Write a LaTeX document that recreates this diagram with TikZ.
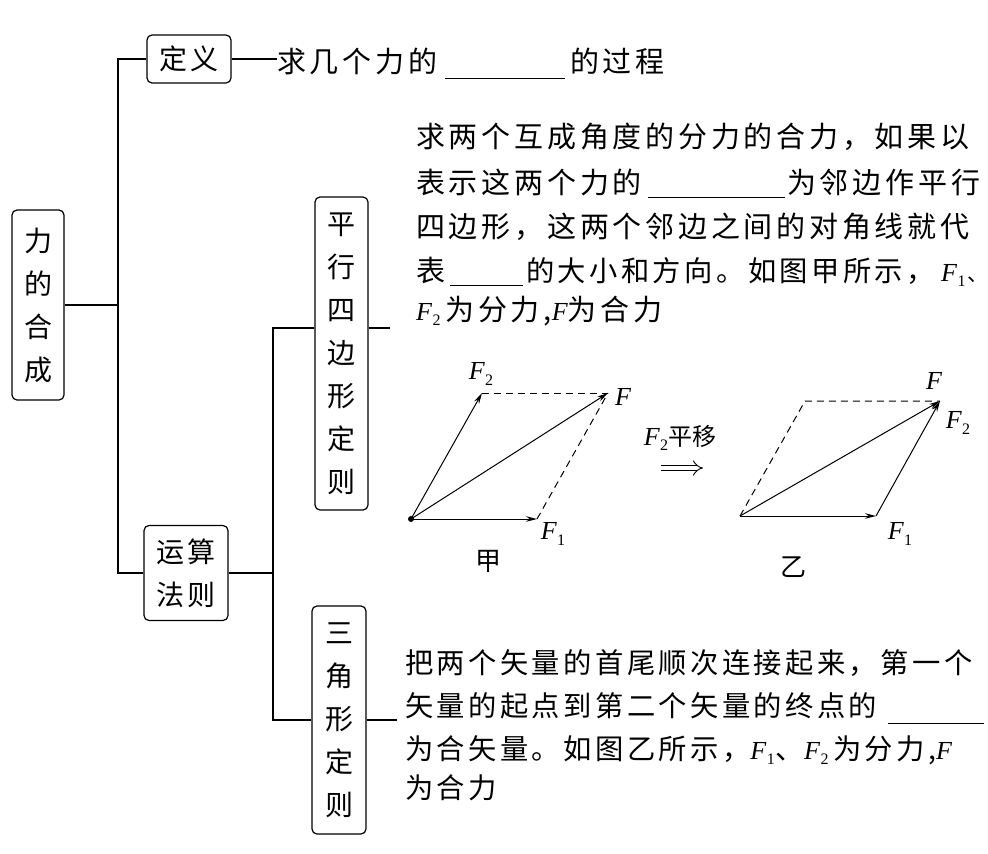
\documentclass[tikz,border=0pt]{standalone}
\usepackage{fontspec}
\newfontfamily\cjk[LetterSpace=13]{Noto Sans CJK SC}
\newfontfamily\cjkb[LetterSpace=12]{Noto Sans CJK SC}
\newfontfamily\cjkbox{Noto Sans CJK SC}
\newfontfamily\tms{Liberation Serif}
\usetikzlibrary{arrows.meta}
\newcommand\myF[1]{{\tms\fontsize{26}{26}\selectfont\itshape F\kern0.5pt\raisebox{-0.22em}{\fontsize{16}{16}\selectfont\upshape #1}}}
\newcommand\myFF{{\tms\fontsize{26}{26}\selectfont\itshape F}}
\begin{document}
\begin{tikzpicture}[x=1pt,y=-1pt,
  box/.style={draw,rounded corners=5pt,line width=1.2pt,inner sep=0pt,align=center,
    font=\cjkbox\fontsize{28}{43}\selectfont},
  conn/.style={line width=1.2pt},
  txt/.style={anchor=base west,inner sep=0pt,font=\cjk\fontsize{29}{35}\selectfont},
  txtb/.style={anchor=base west,inner sep=0pt,font=\cjkb\fontsize{28.3}{35}\selectfont},
  blank/.style={line width=1pt},
  vec/.style={line width=1pt,-{Stealth[length=11pt,width=5.5pt]}},
  dsh/.style={line width=1pt,dash pattern=on 7pt off 5pt},
  lab/.style={inner sep=0pt},
  figcap/.style={inner sep=0pt,font=\cjkbox\fontsize{26}{26}\selectfont}]
\useasboundingbox (0,0) rectangle (988,854);

% boxes
\node[box,minimum width=52pt,minimum height=190pt] (root) at (38,305) {力\\的\\合\\成};
\node[box,minimum width=84pt,minimum height=48pt] (def) at (189,59) {定\hspace{3pt}义};
\node[box,minimum width=84pt,minimum height=95pt] (rule) at (186,573) {运\hspace{3pt}算\\法\hspace{3pt}则};
\node[box,minimum width=53pt,minimum height=313pt] (para) at (341.5,353.5) {平\\行\\四\\边\\形\\定\\则};
\node[box,minimum width=54pt,minimum height=228pt] (tri) at (339,720) {三\\角\\形\\定\\则};

% connectors
\coordinate (j1) at (118,305);
\coordinate (j2) at (273,573);
\coordinate (h1) at (0,328);
\coordinate (pe) at (390,328);
\coordinate (te) at (397,720);
\draw[conn] (def.west) -| (j1 |- rule.west) -- (rule.west);
\draw[conn] (root.east) -- (j1);
\draw[conn] (rule.east) -- (j2);
\draw[conn] (para.west |- h1) -| (j2 |- tri.west) -- (tri.west);
\draw[conn] (para.east |- h1) -- (pe);
\draw[conn] (tri.east) -- (te);

% definition line
\node[txt] (d1) at (277,72) {求几个力的};
\draw[conn] (def.east) -- (d1.west |- def.east);
\coordinate (u0a) at (445,78); \coordinate (u0b) at (565,78);
\draw[blank] (u0a) -- (u0b);
\node[txt] (d2) at (570,72) {的过程};

% parallelogram text
\node[txt] (p1) at (416,147) {求两个互成角度的分力的合力，如果以};
\node[txt] (p2a) at (416,193) {表示这两个力的};
\coordinate (u1a) at (648,197); \coordinate (u1b) at (785,197);
\draw[blank] (u1a) -- (u1b);
\node[txt] (p2b) at (787,193) {为邻边作平行};
\node[txt] (p3) at (416,237) {四边形，这两个邻边之间的对角线就代};
\node[txt] (p4a) at (416,281) {表};
\coordinate (u2a) at (450,285); \coordinate (u2b) at (523,285);
\draw[blank] (u2a) -- (u2b);
\node[txtb] (p4b) at (526,281) {的大小和方向。如图甲所示，};
\node[anchor=base west,inner sep=0pt] (p4c) at (941,281) {\myF{1}};
\node[anchor=base west,inner sep=0pt,font=\cjkbox\fontsize{21}{21}\selectfont] (p4d) at (967,281) {、};
\node[txt] (p5) at (416,320) {\myF{2}\,为分力,\myFF 为合力};

% triangle text
\node[txtb] (q1) at (405,673) {把两个矢量的首尾顺次连接起来，第一个};
\node[txtb] (q2) at (405,716) {矢量的起点到第二个矢量的终点的};
\coordinate (u3a) at (888,723); \coordinate (u3b) at (984,723);
\draw[blank] (u3a) -- (u3b);
\node[txtb] (q3) at (405,759) {为合矢量。如图乙所示，\myF{1}\hspace{1pt}、\myF{2}\,为分力,\myFF};
\node[txtb] (q4) at (405,798) {为合力};

% figure jia
\node[circle,fill,inner sep=0pt,minimum size=6pt] (O1) at (411,519) {};
\coordinate (A1) at (537,519);
\coordinate (B1) at (482,393);
\coordinate (C1) at (608,393);
\draw[vec] (O1.center) -- (A1);
\draw[vec] (O1.center) -- (B1);
\draw[vec] (O1.center) -- (C1);
\draw[dsh] (B1) -- (C1);
\draw[dsh] (A1) -- (C1);
\node[lab] (lF2a) at (481,374) {\myF{2}};
\node[lab] (lFa) at (623,397) {\myFF};
\node[lab] (lF1a) at (553,534) {\myF{1}};
\node[figcap] (jia) at (488,561) {甲};

% shift arrow
\node[inner sep=0pt,font=\cjkbox\fontsize{24}{24}\selectfont] (shift) at (680,438) {\myF{2}平移};
\coordinate (ia) at (661,468);
\coordinate (ib) at (703,468);
\draw[line width=0.9pt,double,double distance=4.5pt,-{Implies[length=5pt]}] (ia) -- (ib);

% figure yi
\coordinate (O2) at (740,516);
\coordinate (A2) at (876,516);
\coordinate (C2) at (940,401);
\coordinate (B2) at (805,401);
\draw[dsh] (O2) -- (B2) -- (C2);
\draw[vec] (O2) -- (A2);
\draw[vec] (A2) -- (C2);
\draw[vec] (O2) -- (C2);
\node[lab] (lFb) at (934,381) {\myFF};
\node[lab] (lF2b) at (958,423) {\myF{2}};
\node[lab] (lF1b) at (900,534) {\myF{1}};
\node[figcap] (yi) at (793,567) {乙};
\end{tikzpicture}
\end{document}
